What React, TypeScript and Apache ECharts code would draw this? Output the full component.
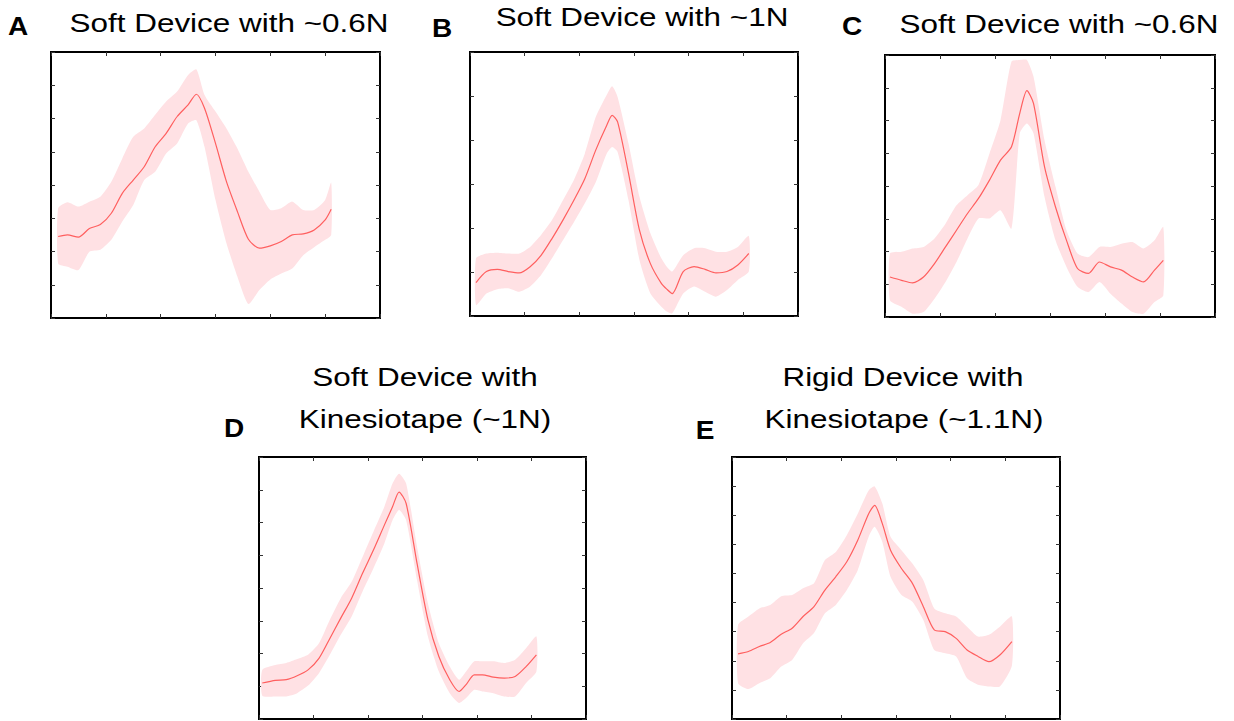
import React, { useEffect, useRef } from "react";
import * as echarts from "echarts";

// ---- Data (x in tick units 0..6, y in tick units) ----
const xA = [0.13, 0.3, 0.5, 0.7, 0.9, 1.1, 1.3, 1.5, 1.7, 1.9, 2.1, 2.3, 2.5, 2.65, 2.8, 3.0, 3.2, 3.4, 3.6, 3.8, 4.0, 4.2, 4.4, 4.6, 4.8, 5.0, 5.11];
const meanA = [2.45, 2.5, 2.43, 2.69, 2.81, 3.15, 3.75, 4.15, 4.55, 5.15, 5.55, 6.06, 6.41, 6.73, 6.31, 5.25, 4.1, 3.2, 2.37, 2.1, 2.17, 2.3, 2.5, 2.53, 2.65, 2.95, 3.27];
const upperA = [3.3, 3.48, 3.35, 3.5, 3.65, 4.1, 4.8, 5.45, 5.7, 6.11, 6.51, 6.81, 7.31, 7.48, 6.71, 6.21, 5.7, 5.1, 4.4, 3.8, 3.25, 3.3, 3.5, 3.25, 3.25, 3.55, 4.07];
const lowerA = [1.64, 1.54, 1.44, 1.99, 2.05, 2.35, 2.9, 3.4, 4.15, 4.4, 4.95, 5.25, 5.85, 5.95, 5.15, 3.55, 2.25, 1.24, 0.42, 0.84, 1.16, 1.34, 1.49, 1.89, 2.13, 2.35, 2.5];

const xB = [0.11, 0.3, 0.5, 0.7, 0.9, 1.1, 1.3, 1.5, 1.7, 1.9, 2.1, 2.3, 2.5, 2.6, 2.7, 2.9, 3.1, 3.3, 3.5, 3.6, 3.7, 3.9, 4.1, 4.3, 4.5, 4.7, 4.9, 5.1];
const meanB = [0.76, 1.01, 1.06, 1.01, 0.98, 1.12, 1.38, 1.76, 2.18, 2.63, 3.12, 3.77, 4.33, 4.56, 4.41, 3.24, 1.95, 1.19, 0.74, 0.61, 0.51, 1.01, 1.12, 1.06, 0.98, 1.01, 1.16, 1.42];
const upperB = [1.31, 1.42, 1.44, 1.42, 1.42, 1.57, 1.84, 2.18, 2.63, 3.09, 3.69, 4.52, 5.02, 5.22, 4.98, 3.92, 2.71, 1.88, 1.31, 1.12, 1.01, 1.38, 1.54, 1.54, 1.46, 1.46, 1.57, 1.82];
const lowerB = [0.25, 0.51, 0.61, 0.63, 0.55, 0.67, 0.93, 1.31, 1.72, 2.13, 2.56, 3.04, 3.69, 3.84, 3.73, 2.63, 1.27, 0.51, 0.21, 0.1, 0.06, 0.51, 0.67, 0.55, 0.44, 0.59, 0.82, 1.01];

const xC = [0.09, 0.3, 0.5, 0.7, 0.9, 1.1, 1.3, 1.5, 1.7, 1.9, 2.1, 2.3, 2.45, 2.58, 2.7, 2.9, 3.1, 3.3, 3.5, 3.7, 3.9, 4.1, 4.3, 4.5, 4.7, 4.9, 5.06];
const meanC = [1.22, 1.12, 1.04, 1.22, 1.63, 2.14, 2.65, 3.16, 3.62, 4.18, 4.79, 5.2, 6.22, 6.91, 6.52, 4.59, 3.36, 2.34, 1.48, 1.33, 1.68, 1.53, 1.43, 1.22, 1.07, 1.43, 1.73];
const upperC = [1.94, 1.99, 2.09, 2.14, 2.4, 2.85, 3.41, 3.72, 4.03, 4.99, 6.01, 7.8, 7.85, 7.85, 7.34, 5.4, 3.98, 2.65, 1.94, 1.83, 2.14, 2.14, 2.24, 2.29, 2.09, 2.34, 2.75];
const lowerC = [0.51, 0.31, 0.1, 0.15, 0.56, 1.07, 1.68, 2.4, 3.01, 3.01, 3.26, 2.7, 5.61, 5.91, 5.61, 3.67, 2.34, 1.53, 0.92, 0.76, 1.07, 0.71, 0.41, 0.15, 0.1, 0.46, 0.66];

const xD = [0.06, 0.3, 0.5, 0.7, 0.9, 1.1, 1.3, 1.5, 1.7, 1.9, 2.1, 2.3, 2.45, 2.57, 2.7, 2.9, 3.1, 3.3, 3.5, 3.67, 3.8, 3.95, 4.1, 4.3, 4.5, 4.7, 4.9, 5.09];
const meanD = [1.1, 1.18, 1.2, 1.32, 1.5, 1.85, 2.46, 3.08, 3.69, 4.45, 5.16, 5.92, 6.48, 6.93, 6.58, 4.75, 3.03, 1.91, 1.2, 0.84, 1.05, 1.35, 1.35, 1.28, 1.25, 1.3, 1.6, 1.96];
const upperD = [1.5, 1.65, 1.71, 1.83, 1.96, 2.31, 3.03, 3.69, 4.19, 4.95, 5.72, 6.48, 7.19, 7.49, 7.19, 5.26, 3.53, 2.31, 1.6, 1.2, 1.45, 1.76, 1.76, 1.76, 1.71, 1.81, 2.16, 2.52];
const lowerD = [0.71, 0.69, 0.69, 0.79, 1.02, 1.4, 1.96, 2.57, 3.13, 3.89, 4.6, 5.36, 6.07, 6.38, 6.07, 4.24, 2.52, 1.45, 0.79, 0.49, 0.64, 0.89, 0.84, 0.79, 0.69, 0.69, 1.1, 1.45];

const xE = [0.11, 0.3, 0.5, 0.7, 0.9, 1.1, 1.3, 1.5, 1.7, 1.9, 2.1, 2.3, 2.5, 2.61, 2.75, 2.9, 3.1, 3.3, 3.5, 3.7, 3.9, 4.1, 4.3, 4.5, 4.7, 4.9, 5.12];
const meanE = [2.24, 2.32, 2.49, 2.63, 2.91, 3.12, 3.52, 3.86, 4.43, 4.89, 5.4, 6.14, 7.05, 7.34, 6.71, 5.8, 5.17, 4.66, 3.86, 3.06, 3.0, 2.77, 2.37, 2.15, 1.97, 2.2, 2.66];
const upperE = [3.23, 3.52, 3.8, 3.92, 4.22, 4.26, 4.49, 4.66, 5.46, 5.74, 6.31, 7.05, 7.85, 7.99, 7.4, 6.26, 5.8, 5.34, 4.77, 3.8, 3.63, 3.52, 3.17, 2.83, 2.89, 3.17, 3.52];
const lowerE = [1.23, 1.03, 1.23, 1.4, 1.8, 2.03, 2.6, 2.95, 3.63, 3.92, 4.43, 5.11, 6.26, 6.6, 6.08, 4.89, 4.26, 4.03, 3.4, 2.37, 2.26, 2.15, 1.4, 1.18, 1.12, 1.12, 1.83];

const panelLetters = ["A", "B", "C", "D", "E"];
const panelTitles = [
  ["Soft Device with ~0.6N"],
  ["Soft Device with ~1N"],
  ["Soft Device with ~0.6N"],
  ["Soft Device with", "Kinesiotape (~1N)"],
  ["Rigid Device with", "Kinesiotape (~1.1N)"],
];
const xTickCount = 6;
const yTickCounts = [8, 6, 8, 8, 9];

const panelData = [
  { x: xA, mean: meanA, upper: upperA, lower: lowerA },
  { x: xB, mean: meanB, upper: upperB, lower: lowerB },
  { x: xC, mean: meanC, upper: upperC, lower: lowerC },
  { x: xD, mean: meanD, upper: upperD, lower: lowerD },
  { x: xE, mean: meanE, upper: upperE, lower: lowerE },
];

// ---- Layout ----
const grids = [
  { left: 51, top: 52, width: 329, height: 266 },
  { left: 470, top: 52, width: 328, height: 264 },
  { left: 885, top: 55, width: 330, height: 262 },
  { left: 259, top: 457, width: 327, height: 262 },
  { left: 732, top: 457, width: 328, height: 262 },
];
const titlePos = [
  [[229, 23]],
  [[642, 17]],
  [[1059, 24]],
  [[425, 377], [425, 419]],
  [[903, 377], [904, 419]],
];
const letterPos = [[18, 27], [442, 29], [852, 27], [234, 429], [705, 431]];

const LINE = "#ff5f5f";
const BAND = "#ffe1e4";
const FONT = "'Liberation Sans', Arial, sans-serif";

export default function App() {
  const ref = useRef<HTMLDivElement>(null);
  useEffect(() => {
    if (!ref.current) return;
    const chart = echarts.init(ref.current, null, { renderer: "svg" });
    const xAxis: any[] = [];
    const yAxis: any[] = [];
    const series: any[] = [];
    const mkTick = () => ({ show: true, inside: true, length: 4, lineStyle: { color: "#333", width: 1 } });
    grids.forEach((g, i) => {
      ["bottom", "top"].forEach((pos) =>
        xAxis.push({
          type: "value", gridIndex: i, position: pos, min: 0, max: xTickCount, interval: 1,
          axisLine: { show: false, onZero: false }, axisTick: mkTick(), axisLabel: { show: false }, splitLine: { show: false },
        })
      );
      ["left", "right"].forEach((pos) =>
        yAxis.push({
          type: "value", gridIndex: i, position: pos, min: 0, max: yTickCounts[i], interval: 1,
          axisLine: { show: false, onZero: false }, axisTick: mkTick(), axisLabel: { show: false }, splitLine: { show: false },
        })
      );
      const d = panelData[i];
      // shaded band: polygon through upper points then lower points reversed
      series.push({
        type: "custom", xAxisIndex: 2 * i, yAxisIndex: 2 * i, silent: true, z: 1,
        data: d.x.map((v, j) => [v, d.lower[j], d.upper[j]]),
        encode: { x: 0, y: [1, 2] },
        renderItem: (params: any, api: any) => {
          if (params.dataIndex !== 0) return null;
          const pts: number[][] = [];
          for (let j = 0; j < d.x.length; j++) pts.push(api.coord([d.x[j], d.upper[j]]));
          for (let j = d.x.length - 1; j >= 0; j--) pts.push(api.coord([d.x[j], d.lower[j]]));
          return { type: "polygon", shape: { points: pts, smooth: 0.2 }, style: { fill: BAND, stroke: "none" } };
        },
      });
      series.push({
        type: "line", xAxisIndex: 2 * i, yAxisIndex: 2 * i, symbol: "none", smooth: 0.25, silent: true, z: 5,
        data: d.x.map((v, j) => [v, d.mean[j]]),
        lineStyle: { color: LINE, width: 1.2 },
      });
    });

    const graphic: any[] = [];
    panelTitles.forEach((lines, i) => {
      lines.forEach((t, k) => {
        graphic.push({
          type: "text", x: titlePos[i][k][0], y: titlePos[i][k][1], scaleX: 1.21, silent: true,
          style: { text: t, x: 0, y: 0, align: "center", verticalAlign: "middle", fontSize: 26, fontFamily: FONT, fill: "#000" },
        });
      });
      graphic.push({
        type: "text", x: letterPos[i][0], y: letterPos[i][1], scaleX: 1.12, silent: true,
        style: { text: panelLetters[i], x: 0, y: 0, align: "center", verticalAlign: "middle", fontSize: 25, fontWeight: "bold", fontFamily: FONT, fill: "#000" },
      });
    });

    chart.setOption({
      animation: false,
      backgroundColor: "#fff",
      grid: grids.map((g) => ({ ...g, show: true, borderColor: "#000", borderWidth: 2, backgroundColor: "transparent", containLabel: false })),
      xAxis,
      yAxis,
      series,
      graphic,
    });
    return () => chart.dispose();
  }, []);
  return <div ref={ref} style={{ position: "absolute", left: 0, top: 0, width: 1234, height: 721 }} />;
}
